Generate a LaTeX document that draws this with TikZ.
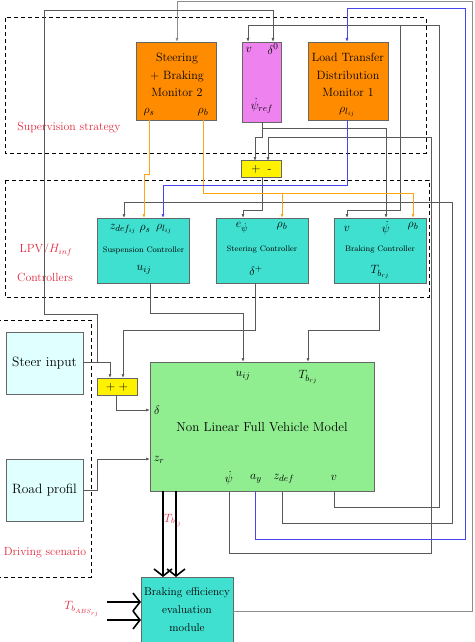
\documentclass[tikz,border=0pt]{standalone}
\usepackage{amsmath}
\usetikzlibrary{arrows.meta,positioning}
\definecolor{monorange}{RGB}{255,140,0}
\definecolor{refpink}{RGB}{238,130,238}
\definecolor{ctrlturq}{RGB}{64,224,208}
\definecolor{vehgreen}{RGB}{144,238,144}
\definecolor{inpcyan}{RGB}{224,255,255}
\definecolor{sigorange}{RGB}{255,165,20}
\definecolor{sigblue}{RGB}{70,70,235}
\definecolor{lblred}{RGB}{225,40,60}
\tikzset{%
   blk/.style={draw=black!60, inner sep=0pt, outer sep=0pt},
   mon/.style={blk, fill=monorange, minimum width=80pt, minimum height=78pt},
   refbox/.style={blk, fill=refpink, minimum width=39pt, minimum height=80pt},
   ctrl/.style={blk, fill=ctrlturq, minimum width=92pt, minimum height=65pt},
   sumbox/.style={blk, fill=yellow, minimum width=40pt, minimum height=17pt},
   inbox/.style={blk, fill=inpcyan, minimum width=77pt, minimum height=62pt, font=\fontsize{13.5}{15}\selectfont},
   grp/.style={draw=black, dashed, line width=1pt, dash pattern=on 4pt off 3pt},
   sig/.style={draw=black!65, line width=0.7pt},
   osig/.style={draw=sigorange, line width=0.7pt, -{Latex[length=4pt,width=3pt,fill=sigorange]}},
   bsig/.style={draw=sigblue, line width=0.7pt, -{Latex[length=4pt,width=3pt,fill=sigblue]}},
   fat/.style={draw=black, line width=1.6pt, -{Straight Barb[length=7pt,width=18pt]}},
   txt/.style={inner sep=0pt, align=center, font=\fontsize{12}{17.5}\selectfont},
   lbl/.style={inner sep=0pt, font=\fontsize{12.5}{14}\selectfont},
   small/.style={inner sep=0pt, font=\fontsize{8}{10}\selectfont},
   red/.style={inner sep=0pt, text=lblred, font=\fontsize{11.8}{14}\selectfont},
}

\begin{document}
\begin{tikzpicture}[x=1pt, y=-1pt, >={Latex[length=4pt,width=3pt]}]
   \useasboundingbox (0,0) rectangle (474,642);

   % groups
   \draw[grp] (5,18) rectangle (426,153);
   \draw[grp] (5,180) rectangle (429,297);
   \draw[grp] (-5,320) rectangle (91,577);
   \node[red] (sup-l) at (69,128) {Supervision strategy};
   \node[red] (lpv-l) at (46,250) {LPV/$H_{inf}$};
   \node[red] (lpv-c) at (45,277) {Controllers};
   \node[red] (drv-l) at (45,553) {Driving scenario};

   % supervision
   \node[mon] (sbm) at (176,81) {};
   \node[txt] (sbm-t) at (177,75) {Steering\\+ Braking\\Monitor 2};
   \node[lbl] (sbm-s) at (149,112) {$\rho_s$};
   \node[lbl] (sbm-b) at (203,112) {$\rho_b$};
   \node[refbox] (ref) at (261.5,82) {};
   \node[lbl] (ref-v) at (249,50) {$v$};
   \node[lbl] (ref-d) at (273,49) {$\delta^0$};
   \node[lbl] (ref-y) at (262,106) {$\dot\psi_{ref}$};
   \node[mon] (ltd) at (348,81) {};
   \node[txt] (ltd-t) at (348,75) {Load Transfer\\Distribution\\Monitor 1};
   \node[lbl] (ltd-r) at (347,112) {$\rho_{l_{ij}}$};
   \node[sumbox] (cmp) at (261.5,169) {};
   \node[lbl] (cmp-t) at (261.5,169) {+\hspace{7pt}-};

   % controllers
   \node[ctrl] (sus) at (143.5,250.5) {};
   \node[lbl] (sus-z) at (123,229) {$z_{def_{ij}}$};
   \node[lbl] (sus-s) at (145,229) {$\rho_s$};
   \node[lbl] (sus-l) at (164,229) {$\rho_{l_{ij}}$};
   \node[small] (sus-t) at (143.5,250) {Suspension Controller};
   \node[lbl] (sus-u) at (144,270) {$u_{ij}$};
   \node[ctrl] (str) at (262,250.5) {};
   \node[lbl] (str-e) at (242,228) {$e_{\dot\psi}$};
   \node[lbl] (str-b) at (282,226) {$\rho_b$};
   \node[small] (str-t) at (262,250) {Steering Controller};
   \node[lbl] (str-d) at (256,271) {$\delta^+$};
   \node[ctrl] (brk) at (380,250.5) {};
   \node[lbl] (brk-v) at (347,229) {$v$};
   \node[lbl] (brk-y) at (386,228) {$\dot\psi$};
   \node[lbl] (brk-b) at (413,226) {$\rho_b$};
   \node[small] (brk-t) at (380,250) {Braking Controller};
   \node[lbl] (brk-T) at (380,272) {$T_{b_{rj}}$};

   % driving scenario
   \node[inbox] (sti) at (44.5,363) {Steer input};
   \node[inbox] (rdp) at (44.5,490.5) {Road profil};
   \node[sumbox] (sum) at (117,386.5) {};
   \node[lbl] (sum-t) at (117,387) {+\hspace{3pt}+};

   % vehicle
   \node[blk, fill=vehgreen, minimum width=224pt, minimum height=129pt] (veh) at (262,426.5) {};
   \node[inner sep=0pt, font=\fontsize{13}{15}\selectfont] (veh-t) at (262,427) {Non Linear Full Vehicle Model};
   \node[lbl] (veh-u) at (243,376) {$u_{ij}$};
   \node[lbl] (veh-T) at (308,377) {$T_{b_{rj}}$};
   \node[lbl] (veh-d) at (157,410) {$\delta$};
   \node[lbl] (veh-z) at (159,460) {$z_r$};
   \node[lbl] (veh-r) at (229,478) {$\dot\psi$};
   \node[lbl] (veh-a) at (256,479) {$a_y$};
   \node[lbl] (veh-f) at (284,479) {$z_{def}$};
   \node[lbl] (veh-v) at (334,478) {$v$};

   % braking efficiency
   \node[blk, fill=ctrlturq, minimum width=92pt, minimum height=72pt] (bef) at (187,613) {};
   \node[txt, font=\fontsize{11.3}{18}\selectfont] (bef-t) at (187,610) {Braking efficiency\\evaluation\\module};
   \node[red] (bef-T) at (173,520) {$T_{b_{ij}}$};
   \node[red] (abs-T) at (82,609) {$T_{b_{ABS_{rj}}}$};

   % ports
   \coordinate (sbm-i) at (177,42);
   \coordinate (ref-iv) at (248,42);
   \coordinate (ref-id) at (273,42);
   \coordinate (ltd-i) at (347,42);
   \coordinate (sbm-os) at (149,120);
   \coordinate (sbm-ob) at (203,120);
   \coordinate (ref-o) at (262,122);
   \coordinate (ltd-o) at (347,120);
   \coordinate (cmp-p) at (255,161);
   \coordinate (cmp-m) at (268,161);
   \coordinate (cmp-o) at (262,177);
   \coordinate (sus-iz) at (124,218);
   \coordinate (sus-is) at (144,218);
   \coordinate (sus-il) at (163,218);
   \coordinate (str-ie) at (243,218);
   \coordinate (str-ib) at (282,218);
   \coordinate (brk-iv) at (347,218);
   \coordinate (brk-iy) at (386,218);
   \coordinate (brk-ib) at (413,218);
   \coordinate (sus-o) at (150,283);
   \coordinate (str-o) at (255,283);
   \coordinate (brk-o) at (379,283);
   \coordinate (sum-i1) at (110,378);
   \coordinate (sum-i2) at (123,378);
   \coordinate (sum-o) at (116,395);
   \coordinate (veh-iu) at (243,362);
   \coordinate (veh-iT) at (308,362);
   \coordinate (veh-id) at (150,410);
   \coordinate (veh-iz) at (150,459);
   \coordinate (veh-or) at (229,491);
   \coordinate (veh-oa) at (255,491);
   \coordinate (veh-of) at (282,491);
   \coordinate (veh-ov) at (334,491);
   \coordinate (sti-o) at (83,362);
   \coordinate (rdp-o) at (83,490);
   \coordinate (bef-o) at (233,611);

   % feedback and signals
   \draw[sig, ->, draw=black!45] (bef-o) -- (472,611) |- (177,1) -- (sbm-i);
   \draw[sig, ->] (sti-o) -| (sum-i1);
   \draw[sig, ->] (97,362) |- (44,314) |- (273,10) -- (ref-id);
   \draw[sig, ->] (veh-ov) -- (334,507) -| (439,25) -| (ref-iv);
   \draw[sig, ->] (400,25) |- (347,210) -- (brk-iv);
   \draw[sig, ->] (veh-or) -- (229,553) -| (431,137) -| (cmp-m);
   \draw[sig, ->] (veh-of) -- (282,523) -| (452,202) -| (sus-iz);
   \draw[bsig] (veh-oa) -- (255,539) -| (465,8) -| (ltd-i);
   \draw[sig, ->] (ref-o) -- ++(0,15) -| (cmp-p);
   \draw[sig, ->] (ref-o) ++(0,6) -| (brk-iy);
   \draw[sig, ->] (cmp-o) -- ++(0,33) -| (str-ie);
   \draw[osig] (sbm-os) -- (149,174) -| (sus-is);
   \draw[osig] (sbm-ob) |- (413,193) -- (brk-ib);
   \draw[osig] (282,193) -- (str-ib);
   \draw[bsig] (ltd-o) |- (163,185) -- (sus-il);
   \draw[sig, ->] (sus-o) |- (243,313) -- (veh-iu);
   \draw[sig, ->] (str-o) |- (123,330) -- (sum-i2);
   \draw[sig, ->] (brk-o) |- (308,330) -- (veh-iT);
   \draw[sig, ->] (sum-o) |- (veh-id);
   \draw[sig, ->] (rdp-o) -- (97,490) |- (veh-iz);

   % thick arrows
   \draw[fat] (163,491) -- (163,577);
   \draw[fat] (176,491) -- (176,577);
   \draw[fat] (107,602) -- (141,602);
   \draw[fat] (107,620) -- (141,620);
\end{tikzpicture}
\end{document}
